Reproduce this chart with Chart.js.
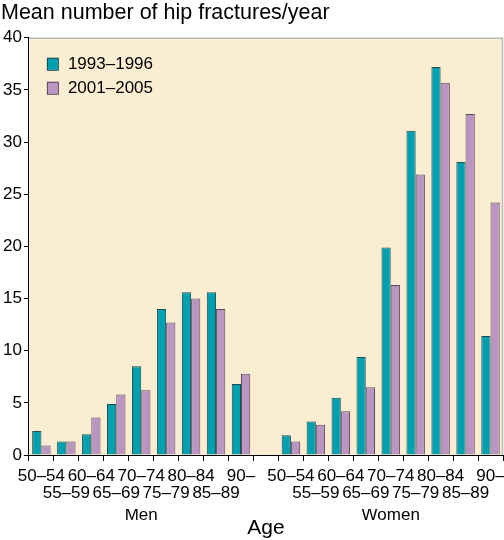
<!DOCTYPE html>
<html>
<head>
<meta charset="utf-8">
<script src="https://cdn.jsdelivr.net/npm/chart.js@4.4.1/dist/chart.umd.min.js"></script>
<style>
    body { margin: 0; background: #fff; }
    #wrap { width: 504px; height: 540px; }
</style>
</head>
<body>
<div id="wrap"><canvas id="chart" width="504" height="540"></canvas></div>
<script>
// Data
const ageGroups = ["50–54", "55–59", "60–64", "65–69", "70–74", "75–79", "80–84", "85–89", "90–"];
const sexes = ["Men", "Women"];
const seriesNames = ["1993–1996", "2001–2005"];

const men1993 = [2.3, 1.3, 2.0, 4.9, 8.5, 14.0, 15.6, 15.6, 6.8];
const men2001 = [0.9, 1.3, 3.6, 5.8, 6.2, 12.7, 15.0, 14.0, 7.8];
const women1993 = [1.9, 3.2, 5.5, 9.4, 19.9, 31.1, 37.2, 28.1, 11.4];
const women2001 = [1.3, 2.9, 4.2, 6.5, 16.3, 26.9, 35.7, 32.7, 24.2];

const yTicks = [0, 5, 10, 15, 20, 25, 30, 35, 40];

const FONT = "'Liberation Sans', Arial, Helvetica, sans-serif";
const TEAL = "#00a0b0";
const PURPLE = "#bb95c2";

// Build the category axis: men, one empty slot, women
const labels = [];
const groupLabels = [];
function addGroup(name) {
    ageGroups.forEach((g, i) => {
        labels.push(i % 2 === 0 ? [g, ""] : ["", g]);
        groupLabels.push(i === 4 ? name : "");
    });
}
addGroup(sexes[0]);
labels.push(["", ""]);
groupLabels.push("");
addGroup(sexes[1]);

const data1993 = [...men1993, null, ...women1993];
const data2001 = [...men2001, null, ...women2001];

// Plot background with light frame on top and right
const backgroundPlugin = {
    id: "plotBackground",
    beforeDraw(chart) {
        const { ctx, chartArea: a } = chart;
        ctx.save();
        ctx.fillStyle = "#fbedd1";
        ctx.fillRect(a.left, a.top, a.right - a.left, a.bottom - a.top);
        ctx.strokeStyle = "#b8b8b8";
        ctx.lineWidth = 1.5;
        ctx.beginPath();
        ctx.moveTo(a.left, a.top + 0.5);
        ctx.lineTo(a.right - 0.5, a.top + 0.5);
        ctx.lineTo(a.right - 0.5, a.bottom);
        ctx.stroke();
        ctx.restore();
    }
};

// Legend drawn inside the plot, top left
const insideLegend = {
    id: "insideLegend",
    afterDatasetsDraw(chart) {
        const { ctx, chartArea: a } = chart;
        ctx.save();
        ctx.font = "17px " + FONT;
        ctx.textBaseline = "middle";
        chart.data.datasets.forEach((ds, i) => {
            const x = a.left + 18;
            const y = a.top + 20 + i * 24;
            ctx.fillStyle = ds.backgroundColor;
            ctx.fillRect(x, y, 11, 12);
            ctx.strokeStyle = ds.borderColor;
            ctx.lineWidth = 1;
            ctx.strokeRect(x + 0.5, y + 0.5, 11, 12);
            ctx.fillStyle = "#000";
            ctx.fillText(ds.label, x + 21, y + 7);
        });
        ctx.restore();
    }
};

Chart.defaults.color = "#000";
Chart.defaults.font.family = FONT;

new Chart(document.getElementById("chart"), {
    type: "bar",
    data: {
        labels: labels,
        datasets: [
            {
                label: seriesNames[0],
                data: data1993,
                backgroundColor: TEAL,
                borderColor: "#1f4d52",
                borderWidth: 1,
                barPercentage: 1.0,
                categoryPercentage: 0.74
            },
            {
                label: seriesNames[1],
                data: data2001,
                backgroundColor: PURPLE,
                borderColor: "#5a4c5c",
                borderWidth: 1,
                barPercentage: 1.0,
                categoryPercentage: 0.74
            }
        ]
    },
    options: {
        responsive: false,
        animation: false,
        layout: { padding: { top: 0, left: 1, right: 1, bottom: 0 } },
        plugins: {
            legend: { display: false },
            tooltip: { enabled: false },
            title: {
                display: true,
                text: "Mean number of hip fractures/year",
                align: "start",
                font: { size: 21.5, weight: "normal" },
                padding: { top: 0, bottom: 12 }
            }
        },
        scales: {
            y: {
                min: 0,
                max: 40,
                afterBuildTicks: axis => { axis.ticks = yTicks.map(v => ({ value: v })); },
                ticks: { font: { size: 17 }, padding: 2 },
                grid: { drawOnChartArea: false, color: "#000", tickLength: 5 },
                border: { color: "#000", width: 1 }
            },
            x: {
                offset: true,
                // let the last label run to the canvas edge, as in the original
                afterFit: axis => { axis.paddingRight = 0; },
                ticks: {
                    autoSkip: false,
                    maxRotation: 0,
                    font: { size: 17, lineHeight: 1.0 },
                    padding: 7
                },
                grid: { offset: true, drawOnChartArea: false, color: "#000", tickLength: 6 },
                border: { color: "#000", width: 1 }
            },
            x2: {
                type: "category",
                position: "bottom",
                labels: groupLabels,
                offset: true,
                afterFit: axis => { axis.paddingRight = 0; },
                ticks: {
                    autoSkip: false,
                    maxRotation: 0,
                    font: { size: 17, lineHeight: 1.0 },
                    padding: -2
                },
                grid: { display: false, drawTicks: false },
                border: { display: false },
                title: {
                    display: true,
                    text: "Age",
                    font: { size: 21, lineHeight: 1.0 },
                    padding: { top: -4, bottom: 1 }
                }
            }
        }
    },
    plugins: [backgroundPlugin, insideLegend]
});
</script>
</body>
</html>
